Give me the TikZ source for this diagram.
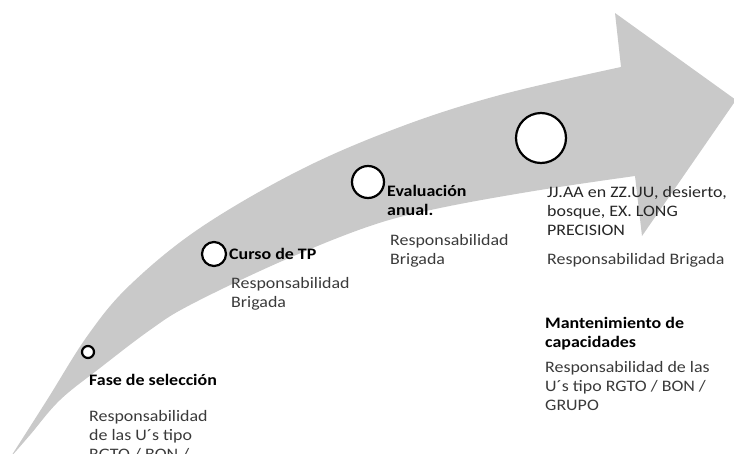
\documentclass[tikz,border=0pt]{standalone}
\usepackage{fontspec}
\setmainfont{Carlito}[FakeStretch=1.12]
\usepackage{xcolor}
\usetikzlibrary{positioning}
\definecolor{arrowgray}{RGB}{201,201,201}
\definecolor{bodygray}{RGB}{58,58,58}

\begin{document}
\begin{tikzpicture}[x=1pt,y=-1pt,
                  stage/.style={circle,draw=black,fill=white,line width=2.2pt,inner sep=0pt},
                  title/.style={anchor=north west,inner sep=0pt,align=left,text=black,
                    font=\fontsize{16}{19}\selectfont\bfseries},
                  body/.style={anchor=north west,inner sep=0pt,align=left,text=bodygray,
                    font=\fontsize{16}{19}\selectfont}
                  ]
                  \useasboundingbox (0,0) rectangle (734,453);
                  \clip (0,0) rectangle (734,453);

                  \fill[arrowgray] (10,458)
                    -- plot[smooth,tension=0.6] coordinates {(10,458) (47,400) (88,335) (130,285)
                       (200,228) (300,170) (400,127) (500,95) (621,67)}
                    -- (615,13) -- (736,100) -- (642,236) -- (635,176)
                    -- plot[smooth,tension=0.6] coordinates {(635,176) (540,190) (440,208) (370,226)
                       (280,262) (190,305) (150,330) (100,368) (60,400) (30,435) (10,458)}
                    -- cycle;

                  \node[stage,minimum size=12pt] (s1) at (88,352) {};
                  \node[stage,minimum size=24pt] (s2) at (214,254) {};
                  \node[stage,minimum size=32pt] (s3) at (368,182) {};
                  \node[stage,minimum size=50pt] (s4) at (541,138) {};

                  \node[title] (t1) at (89,372) {\strut Fase de selección};
                  \node[body] (b1) at (89,408) {\strut Responsabilidad\\de las U´s tipo\\RGTO / BON /};

                  \node[title] (t2) at (229,246) {\strut Curso de TP};
                  \node[body] (b2) at (231,275) {\strut Responsabilidad\\Brigada};

                  \node[title] (t3) at (387,183) {\strut Evaluación\\anual.};
                  \node[body] (b3) at (390,232) {\strut Responsabilidad\\Brigada};

                  \node[body,text=black!85] (t4) at (547,184) {\strut JJ.AA en ZZ.UU, desierto,\\bosque, EX. LONG\\PRECISION};
                  \node[body] (b4) at (547,251) {\strut Responsabilidad Brigada};

                  \node[title] (t5) at (545,315) {\strut Mantenimiento de\\capacidades};
                  \node[body] (b5) at (545,359) {\strut Responsabilidad de las\\U´s tipo RGTO / BON /\\GRUPO};
                \end{tikzpicture}
\end{document}
